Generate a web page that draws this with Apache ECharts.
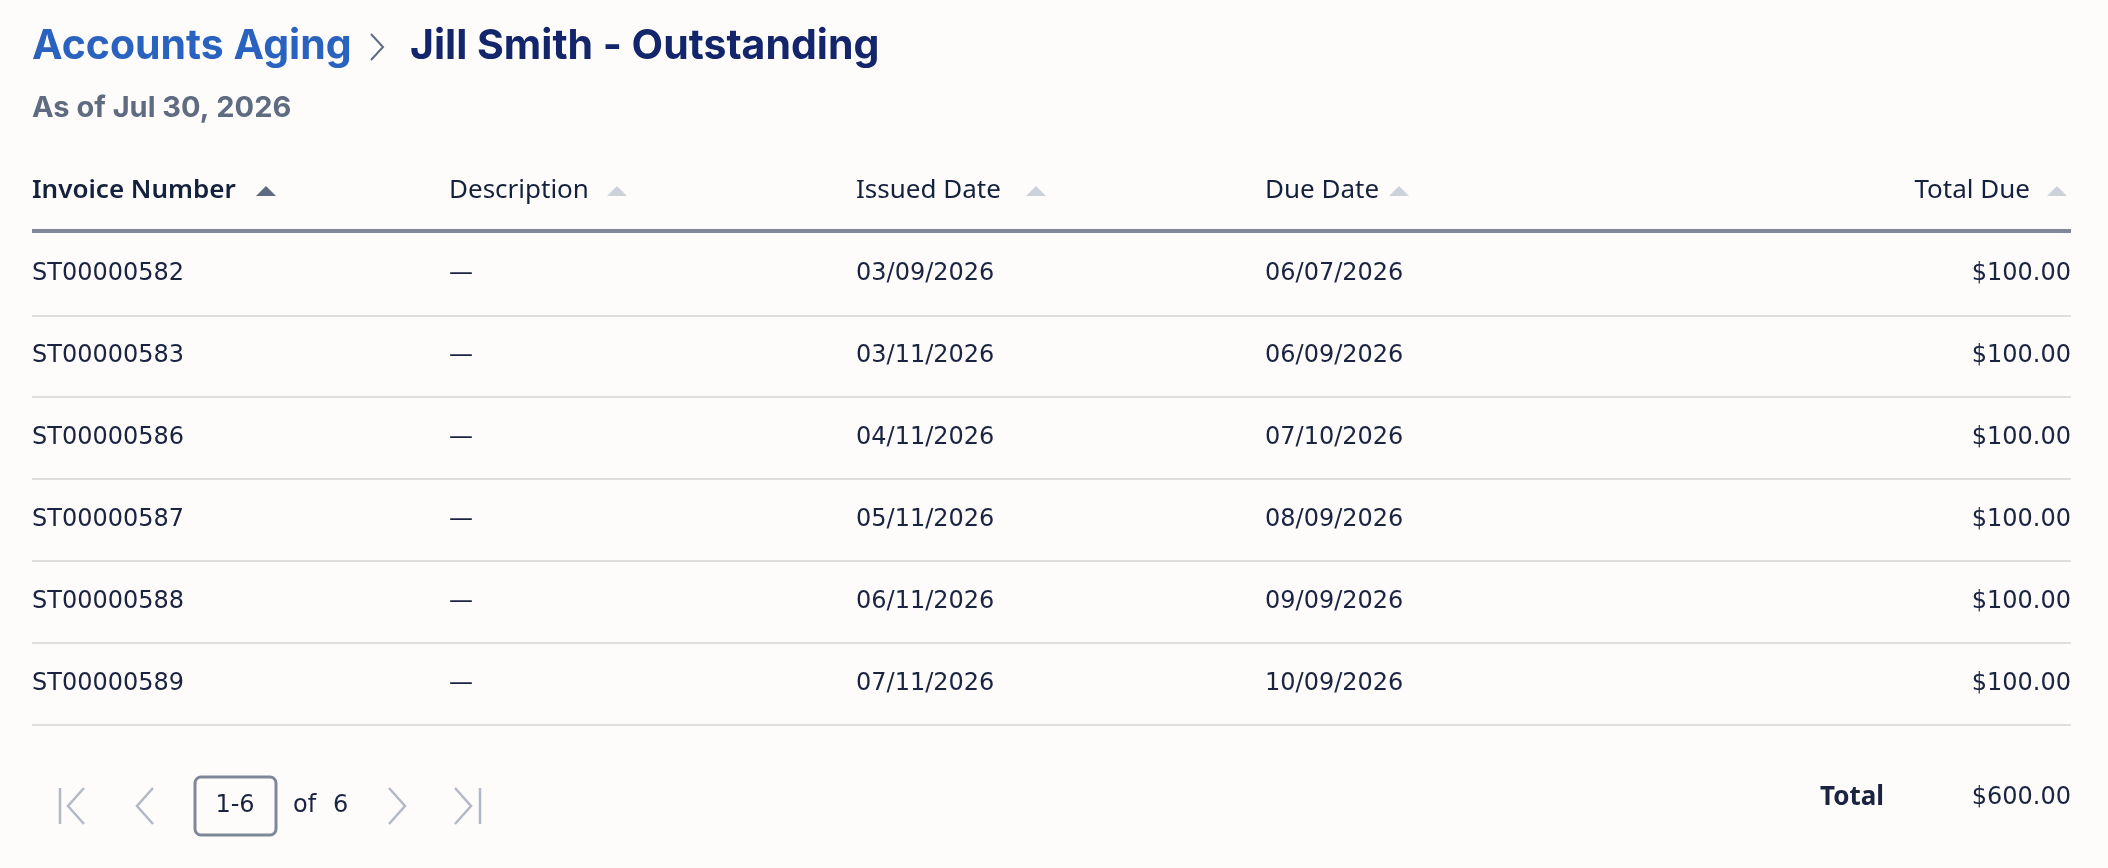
<!DOCTYPE html>
<html><head><meta charset="utf-8">
<script src="https://cdn.jsdelivr.net/npm/echarts@6/dist/echarts.min.js"></script>
<style>html,body{margin:0;padding:0;background:#fdfcfb}#c{width:2108px;height:868px}</style>
</head><body><div id="c"></div>
<script>
const columns = ['Invoice Number','Description','Issued Date','Due Date','Total Due'];
const invoiceNumbers = ['ST00000582','ST00000583','ST00000586','ST00000587','ST00000588','ST00000589'];
const descriptions = ['—','—','—','—','—','—'];
const issuedDates = ['03/09/2026','03/11/2026','04/11/2026','05/11/2026','06/11/2026','07/11/2026'];
const dueDates = ['06/07/2026','06/09/2026','07/10/2026','08/09/2026','09/09/2026','10/09/2026'];
const totalDue = [100,100,100,100,100,100];

const F = '"DejaVu Sans", "Noto Sans", sans-serif';
const HF = '"Noto Sans", sans-serif';
const TF = 'Inter, "Noto Sans", sans-serif';
const colX = [32,449,856,1265,2071];
const rowY = [274,356,438,520,602,684];
const sepY = [315,396,478,560,642,724];
const money = v => '$' + v.toFixed(2);
const els = [];
const txt = (x,y,t,o) => els.push({type:'text',x,y,style:Object.assign({text:t,font:'400 24px '+F,fill:'#1a2340',verticalAlign:'middle'},o||{})});

txt(32,47,'Accounts Aging',{font:'700 41px '+TF,fill:'#2a62c0'});
els.push({type:'polyline',shape:{points:[[371,34],[383,47],[371,60]]},style:{stroke:'#5f6b80',lineWidth:2,fill:null}});
txt(410,47,'Jill Smith - Outstanding',{font:'700 41px '+TF,fill:'#13266b'});
txt(32,108,'As of Jul 30, 2026',{font:'700 29px '+TF,fill:'#5f6b80'});

const hdrW = [212,146,158,112,136];
columns.forEach((c,i)=>{
  const right = i===4;
  const tx = right ? colX[4]-41 : colX[i];
  txt(tx,191,c,{font:(i===0?'600 ':'400 ')+'26px '+HF,fill:'#14213d',align:right?'right':'left'});
  const triX = right ? colX[4]-14 : colX[i]+hdrW[i]+22;
  els.push({type:'polygon',shape:{points:[[triX-10,196],[triX+10,196],[triX,186]]},style:{fill:i===0?'#5f6b80':'#cdd1d9'}});
});
els.push({type:'rect',shape:{x:32,y:229,width:2039,height:4},style:{fill:'#7f8898'}});
sepY.forEach(y=>els.push({type:'rect',shape:{x:32,y:y,width:2039,height:2},style:{fill:'#dedede'}}));
invoiceNumbers.forEach((n,r)=>{
  txt(colX[0],rowY[r],n);
  txt(colX[1],rowY[r],descriptions[r]);
  txt(colX[2],rowY[r],issuedDates[r]);
  txt(colX[3],rowY[r],dueDates[r]);
  txt(colX[4],rowY[r],money(totalDue[r]),{align:'right'});
});
const gs = {stroke:'#b3b9c4',lineWidth:2.5,fill:null};
els.push({type:'line',shape:{x1:60,y1:788,x2:60,y2:824},style:gs});
els.push({type:'polyline',shape:{points:[[84,788],[68,806],[84,824]]},style:gs});
els.push({type:'polyline',shape:{points:[[153,788],[137,806],[153,824]]},style:gs});
els.push({type:'polyline',shape:{points:[[389,788],[405,806],[389,824]]},style:gs});
els.push({type:'polyline',shape:{points:[[455,788],[471,806],[455,824]]},style:gs});
els.push({type:'line',shape:{x1:480,y1:788,x2:480,y2:824},style:gs});
els.push({type:'rect',shape:{x:195,y:777,width:81,height:58,r:6},style:{fill:'#fdfcfb',stroke:'#7f8898',lineWidth:3}});
txt(235,806,'1-6',{align:'center'});
txt(293,806,'of',{});
txt(333,806,String(invoiceNumbers.length),{});
txt(1820,798,'Total',{font:'700 26px '+HF});
txt(2071,798,money(totalDue.reduce((a,b)=>a+b,0)),{align:'right'});

const chart = echarts.init(document.getElementById('c'));
chart.setOption({backgroundColor:'#fdfcfb',animation:false,graphic:{elements:els}});
</script></body></html>
